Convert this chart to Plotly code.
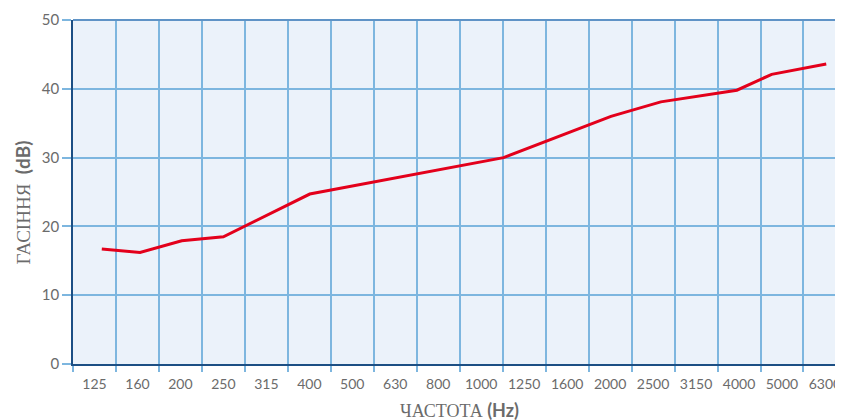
import plotly.graph_objects as go

categories = ["125", "160", "200", "250", "315", "400", "500", "630", "800", "1000",
              "1250", "1600", "2000", "2500", "3150", "4000", "5000", "6300"]
# line vertices: position along the category axis (index) and attenuation (dB)
line_x = [0.17, 1.06, 2.03, 3.0, 5.01, 9.52, 12.02, 13.18, 14.95, 15.76, 17.03]
line_y = [16.7, 16.2, 17.9, 18.5, 24.7, 30.0, 36.0, 38.1, 39.8, 42.1, 43.6]
y_ticks = [0, 10, 20, 30, 40, 50]

x_title = "ЧАСТОТА <b><span style='font-family:Lato, sans-serif'>(Hz)</span></b>"
y_title = "ГАСІННЯ  <b><span style='font-family:Lato, sans-serif'>(dB)</span></b>"

GRID = "#7db6df"
AXIS = "#1c4f84"
TXT = "#6b6b6b"
SERIF = "'Liberation Serif', 'DejaVu Serif', serif"

fig = go.Figure()
fig.add_trace(go.Scatter(
    x=line_x, y=line_y, mode="lines",
    line=dict(color="#e3001b", width=3),
    hoverinfo="skip", showlegend=False,
))

fig.update_layout(
    width=835, height=412,
    margin=dict(l=65, r=0, t=12, b=56),
    paper_bgcolor="white",
    plot_bgcolor="#ebf2fa",
    font=dict(family="Lato, 'Open Sans', sans-serif", color=TXT),
    xaxis=dict(
        automargin=False,
        range=[-0.5, 17.42],
        tickmode="array",
        tickvals=list(range(len(categories))),
        ticktext=categories,
        ticks="outside", ticklen=6, tickcolor="rgba(0,0,0,0)",
        showgrid=False, zeroline=False,
        showline=True, linecolor=AXIS, linewidth=1.5,
        tickfont=dict(size=14, color=TXT),
        minor=dict(
            tickmode="array",
            tickvals=[i - 0.5 for i in range(len(categories) + 1)],
            showgrid=True, gridcolor=GRID, gridwidth=1.5,
            ticks="outside", ticklen=6, tickcolor=GRID, tickwidth=1.5,
        ),
    ),
    yaxis=dict(
        automargin=False,
        range=[0, 50],
        tickmode="array", tickvals=y_ticks,
        ticks="outside", ticklen=9, tickcolor=GRID, tickwidth=2,
        showgrid=True, gridcolor=GRID, gridwidth=1.5,
        zeroline=False,
        showline=True, linecolor=AXIS, linewidth=1.5,
        tickfont=dict(size=15, color=TXT),
    ),
    shapes=[dict(type="line", xref="paper", yref="paper", x0=0, x1=1, y0=1, y1=1,
                 line=dict(color="#5f93c6", width=2), layer="above")],
    annotations=[
        dict(text=x_title, xref="paper", yref="paper", x=0.502, y=-0.134,
             xanchor="center", yanchor="middle", showarrow=False,
             font=dict(family=SERIF, size=18, color=TXT)),
        dict(text=y_title, xref="paper", yref="paper", x=-0.066, y=0.47,
             xanchor="center", yanchor="middle", showarrow=False, textangle=-90,
             font=dict(family=SERIF, size=19, color=TXT)),
    ],
)

fig.write_html("out.html")
